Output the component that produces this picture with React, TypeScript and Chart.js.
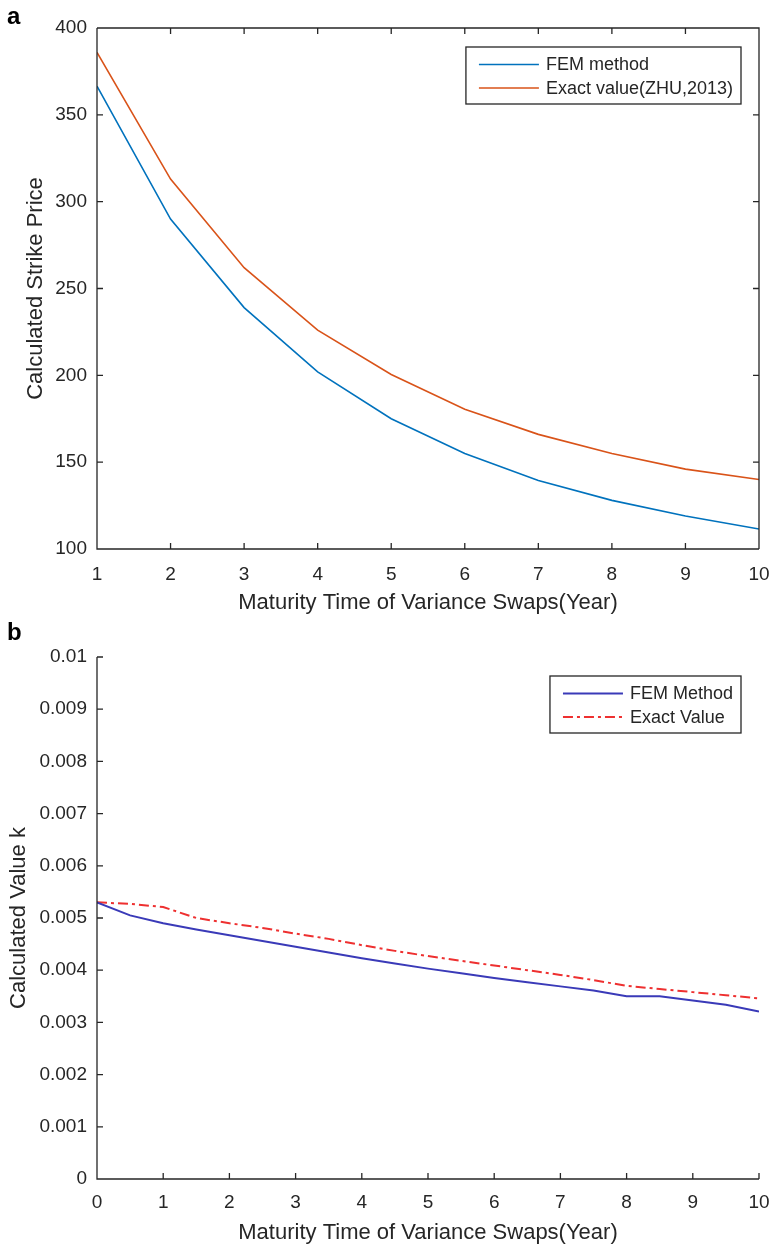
import React, { useEffect, useRef } from "react";
import { Chart, registerables } from "chart.js";

Chart.register(...registerables);

// ---------- Data: panel (a) ----------
const topYears = [1, 2, 3, 4, 5, 6, 7, 8, 9, 10];
const topFem = [366.5, 290, 239, 202, 175, 155, 139.5, 128, 119, 111.5];
const topExact = [386, 313, 262, 226, 200.5, 180.5, 166, 155, 146, 140];
const topXTicks = [1, 2, 3, 4, 5, 6, 7, 8, 9, 10];
const topYTicks = [100, 150, 200, 250, 300, 350, 400];

// ---------- Data: panel (b) ----------
const bottomYears = [0, 0.5, 1, 1.5, 2, 2.5, 3, 3.5, 4, 4.5, 5, 5.5, 6, 6.5, 7, 7.5, 8, 8.5, 9, 9.5, 10];
const bottomFem = [
  0.0053, 0.00505, 0.0049, 0.00478, 0.00467, 0.00456, 0.00445, 0.00434, 0.00423, 0.00413, 0.00403,
  0.00394, 0.00385, 0.00377, 0.00369, 0.00361, 0.0035, 0.0035, 0.00342, 0.00334, 0.00321,
];
const bottomExact = [
  0.0053, 0.00527, 0.00521, 0.005, 0.0049, 0.00481, 0.0047, 0.0046, 0.00448, 0.00437, 0.00427,
  0.00418, 0.00409, 0.004, 0.00391, 0.00381, 0.0037, 0.00364, 0.00358, 0.00352, 0.00346,
];
const bottomXTicks = [0, 1, 2, 3, 4, 5, 6, 7, 8, 9, 10];
const bottomYTicks = [0, 0.001, 0.002, 0.003, 0.004, 0.005, 0.006, 0.007, 0.008, 0.009, 0.01];

const FONT = "'Liberation Sans', Arial, Helvetica, sans-serif";
const AXIS = "#262626";
const TEXT = "#262626";
const TICK_LEN = 6;

type PanelCfg = {
  width: number;
  height: number;
  top: number;
  padTop: number;
  box: boolean;
  panel: string;
  xs: number[];
  series: { label: string; data: number[]; color: string; width: number; dash: number[] }[];
  xTicks: number[];
  yTicks: number[];
  xMin: number;
  xMax: number;
  yMin: number;
  yMax: number;
  xTitle: string;
  yTitle: string;
  yTitlePad: number;
  xTickPad: number;
  yFmt: (v: number) => string;
};

function makeFramePlugin(cfg: PanelCfg) {
  return {
    id: "matlabFrame",
    afterDatasetsDraw(chart: any) {
      const { ctx, chartArea } = chart;
      const { left, right, top, bottom } = chartArea;
      const xs = chart.scales.x;
      const ys = chart.scales.y;
      ctx.save();
      ctx.strokeStyle = AXIS;
      ctx.lineWidth = 1.3;
      ctx.setLineDash([]);
      ctx.beginPath();
      ctx.moveTo(left, top);
      ctx.lineTo(left, bottom);
      ctx.lineTo(right, bottom);
      if (cfg.box) {
        ctx.moveTo(left, top);
        ctx.lineTo(right, top);
        ctx.lineTo(right, bottom);
      }
      xs.ticks.forEach((t: any) => {
        const px = xs.getPixelForValue(t.value);
        ctx.moveTo(px, bottom);
        ctx.lineTo(px, bottom - TICK_LEN);
        if (cfg.box) {
          ctx.moveTo(px, top);
          ctx.lineTo(px, top + TICK_LEN);
        }
      });
      ys.ticks.forEach((t: any) => {
        const py = ys.getPixelForValue(t.value);
        ctx.moveTo(left, py);
        ctx.lineTo(left + TICK_LEN, py);
        if (cfg.box) {
          ctx.moveTo(right, py);
          ctx.lineTo(right - TICK_LEN, py);
        }
      });
      ctx.stroke();

      // Legend box (MATLAB style, north-east)
      ctx.font = `18px ${FONT}`;
      const dsets = chart.data.datasets;
      let maxW = 0;
      dsets.forEach((d: any) => {
        maxW = Math.max(maxW, ctx.measureText(d.label).width);
      });
      const boxW = 13 + 60 + 7 + maxW + 8;
      const boxH = 57;
      const bx = right - 18 - boxW;
      const by = top + 19;
      ctx.fillStyle = "#ffffff";
      ctx.fillRect(bx, by, boxW, boxH);
      ctx.strokeStyle = AXIS;
      ctx.lineWidth = 1.3;
      ctx.strokeRect(bx, by, boxW, boxH);
      dsets.forEach((d: any, i: number) => {
        const ry = by + 17.5 + i * 23.5;
        ctx.beginPath();
        ctx.strokeStyle = d.borderColor;
        ctx.lineWidth = d.borderWidth;
        ctx.setLineDash(d.borderDash || []);
        ctx.moveTo(bx + 13, ry);
        ctx.lineTo(bx + 73, ry);
        ctx.stroke();
        ctx.setLineDash([]);
        ctx.fillStyle = TEXT;
        ctx.textAlign = "left";
        ctx.textBaseline = "middle";
        ctx.fillText(d.label, bx + 80, ry + 1);
      });

      // Panel letter
      ctx.font = `bold 24px ${FONT}`;
      ctx.fillStyle = "#000";
      ctx.textAlign = "left";
      ctx.textBaseline = "alphabetic";
      ctx.fillText(cfg.panel, 7, cfg.panel === "a" ? 24 : 20);
      ctx.restore();
    },
  };
}

function Panel({ cfg }: { cfg: PanelCfg }) {
  const ref = useRef<HTMLCanvasElement | null>(null);
  useEffect(() => {
    if (!ref.current) return;
    const chart = new Chart(ref.current, {
      type: "line",
      data: {
        datasets: cfg.series.map((s) => ({
          label: s.label,
          data: cfg.xs.map((x, i) => ({ x, y: s.data[i] })),
          borderColor: s.color,
          backgroundColor: s.color,
          borderWidth: s.width,
          borderDash: s.dash,
          pointRadius: 0,
          tension: 0,
          fill: false,
        })),
      },
      options: {
        animation: false,
        responsive: false,
        devicePixelRatio: 1,
        layout: { padding: { left: 0, right: 16, top: cfg.padTop, bottom: 0 } },
        plugins: { legend: { display: false }, tooltip: { enabled: false } },
        scales: {
          x: {
            type: "linear",
            min: cfg.xMin,
            max: cfg.xMax,
            grid: { display: false, drawTicks: false },
            border: { display: false },
            afterBuildTicks: (scale: any) => {
              scale.ticks = cfg.xTicks.map((v) => ({ value: v }));
            },
            afterFit: (scale: any) => {
              scale.height = 71;
              scale.paddingLeft = 0;
              scale.paddingRight = 0;
            },
            ticks: {
              padding: cfg.xTickPad,
              color: TEXT,
              font: { family: FONT, size: 19 },
              maxRotation: 0,
              autoSkip: false,
              callback: (v: any) => String(v),
            },
            title: {
              display: true,
              text: cfg.xTitle,
              color: TEXT,
              font: { family: FONT, size: 22 },
              padding: { top: 0, bottom: 4 },
            },
          },
          y: {
            type: "linear",
            min: cfg.yMin,
            max: cfg.yMax,
            grid: { display: false, drawTicks: false },
            border: { display: false },
            afterBuildTicks: (scale: any) => {
              scale.ticks = cfg.yTicks.map((v) => ({ value: v }));
            },
            afterFit: (scale: any) => {
              scale.width = 97;
              scale.paddingTop = 0;
              scale.paddingBottom = 0;
            },
            ticks: {
              padding: 10,
              color: TEXT,
              font: { family: FONT, size: 19 },
              autoSkip: false,
              callback: (v: any) => cfg.yFmt(Number(v)),
            },
            title: {
              display: true,
              text: cfg.yTitle,
              color: TEXT,
              font: { family: FONT, size: 22 },
              padding: { top: cfg.yTitlePad, bottom: 0 },
            },
          },
        },
      },
      plugins: [makeFramePlugin(cfg)],
    } as any);
    return () => chart.destroy();
  }, [cfg]);
  return (
    <div style={{ position: "absolute", left: 0, top: cfg.top, width: cfg.width, height: cfg.height }}>
      <canvas ref={ref} width={cfg.width} height={cfg.height} style={{ width: cfg.width, height: cfg.height, display: "block" }} />
    </div>
  );
}

const topCfg: PanelCfg = {
  width: 775,
  height: 620,
  top: 0,
  padTop: 28,
  box: true,
  panel: "a",
  xs: topYears,
  series: [
    { label: "FEM method", data: topFem, color: "#0072BD", width: 1.6, dash: [] },
    { label: "Exact value(ZHU,2013)", data: topExact, color: "#D95319", width: 1.6, dash: [] },
  ],
  xTicks: topXTicks,
  yTicks: topYTicks,
  xMin: 1,
  xMax: 10,
  yMin: 100,
  yMax: 400,
  xTitle: "Maturity Time of Variance Swaps(Year)",
  yTitle: "Calculated Strike Price",
  yTitlePad: 23,
  xTickPad: 14,
  yFmt: (v) => String(v),
};

const bottomCfg: PanelCfg = {
  width: 775,
  height: 630,
  top: 620,
  padTop: 37,
  box: false,
  panel: "b",
  xs: bottomYears,
  series: [
    { label: "FEM Method", data: bottomFem, color: "#3a3ab8", width: 2, dash: [] },
    { label: "Exact Value", data: bottomExact, color: "#ee3030", width: 2, dash: [10, 4, 3, 4] },
  ],
  xTicks: bottomXTicks,
  yTicks: bottomYTicks,
  xMin: 0,
  xMax: 10,
  yMin: 0,
  yMax: 0.01,
  xTitle: "Maturity Time of Variance Swaps(Year)",
  yTitle: "Calculated Value k",
  yTitlePad: 6,
  xTickPad: 12,
  yFmt: (v) => String(Number(v.toFixed(3))),
};

export default function App() {
  return (
    <div style={{ position: "absolute", left: 0, top: 0, width: 775, height: 1250, background: "#ffffff" }}>
      <Panel cfg={topCfg} />
      <Panel cfg={bottomCfg} />
    </div>
  );
}
